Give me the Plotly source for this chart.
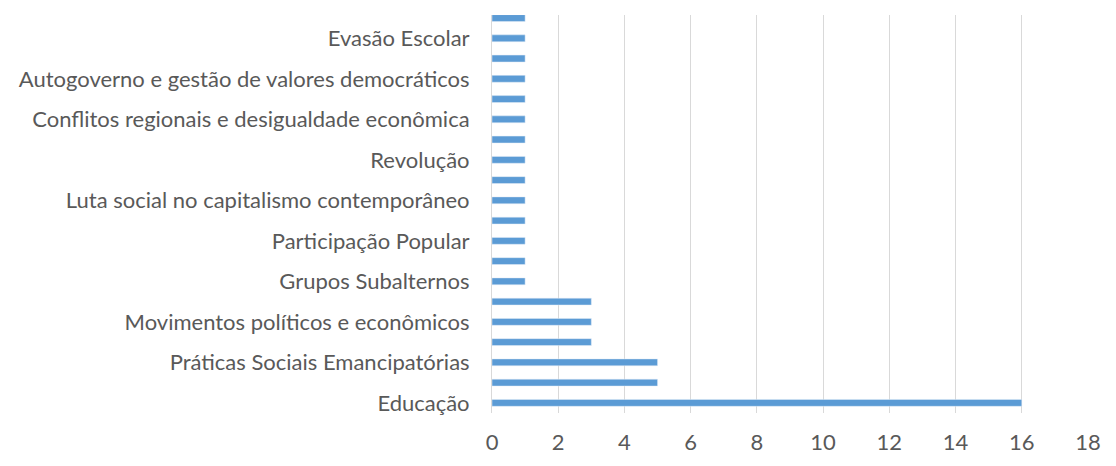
import plotly.graph_objects as go

# values from bottom (Educação) to top
values = [16, 5, 5, 3, 3, 3, 1, 1, 1, 1, 1, 1, 1, 1, 1, 1, 1, 1, 1, 1]
# labels shown on every other bar, bottom to top
shown_labels = [
    "Educação",
    "Práticas Sociais Emancipatórias",
    "Movimentos políticos e econômicos",
    "Grupos Subalternos",
    "Participação Popular",
    "Luta social no capitalismo contemporâneo",
    "Revolução",
    "Conflitos regionais e desigualdade econômica",
    "Autogoverno e gestão de valores democráticos",
    "Evasão Escolar",
]
x_ticks = [0, 2, 4, 6, 8, 10, 12, 14, 16, 18]

positions = list(range(len(values)))
label_positions = positions[0::2]

fig = go.Figure(
    go.Bar(
        x=values,
        y=positions,
        orientation="h",
        marker=dict(color="#5b9bd5"),
        width=0.34,
    )
)

fig.update_layout(
    width=1116,
    height=466,
    paper_bgcolor="white",
    plot_bgcolor="white",
    margin=dict(l=484, r=36, t=7, b=61),
    showlegend=False,
    font=dict(family="Lato", size=22, color="#595959"),
)
fig.update_xaxes(
    range=[0, 18],
    tickvals=x_ticks,
    showgrid=True,
    gridcolor="#d9d9d9",
    gridwidth=1,
    zeroline=False,
    showline=False,
    ticks="",
    ticklabelstandoff=14,
    tickfont=dict(size=22, color="#595959"),
)
fig.update_yaxes(
    range=[-0.5, 19.15],
    tickvals=label_positions,
    ticktext=shown_labels,
    showgrid=False,
    zeroline=False,
    showline=True,
    linecolor="#d9d9d9",
    linewidth=1,
    ticks="",
    ticklabelstandoff=17,
    tickfont=dict(size=22, color="#595959"),
)

fig.write_html("out.html")
